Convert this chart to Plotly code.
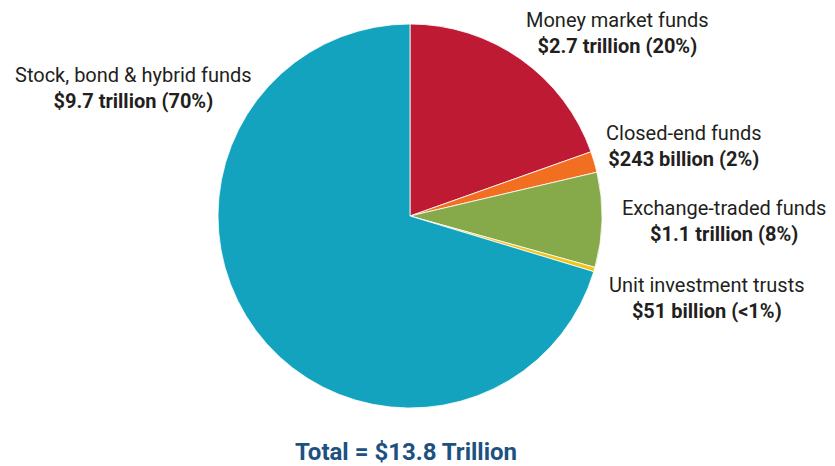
import plotly.graph_objects as go

categories = ["Money market funds", "Closed-end funds", "Exchange-traded funds",
              "Unit investment trusts", "Stock, bond & hybrid funds"]
values = [2.7, 0.243, 1.1, 0.051, 9.7]  # trillions
value_labels = ["$2.7 trillion (20%)", "$243 billion (2%)", "$1.1 trillion (8%)",
                "$51 billion (<1%)", "$9.7 trillion (70%)"]
colors = ["#BE1A34", "#F26F21", "#86A94A", "#F0C419", "#13A3BF"]
total_label = "Total = $13.8 Trillion"

W, H = 835, 466
cx, cy, r = 410, 216, 192

fig = go.Figure(go.Pie(
    labels=categories, values=values, sort=False, direction="clockwise",
    rotation=0, marker=dict(colors=colors, line=dict(color="white", width=0.8)),
    textinfo="none", hoverinfo="label+value", showlegend=False,
    domain=dict(x=[(cx - r) / W, (cx + r) / W], y=[(H - cy - r) / H, (H - cy + r) / H]),
))

label_pos = [(617, 33), (684, 146), (724, 221), (707, 298), (133, 88)]
for (x, y), cat, vl in zip(label_pos, categories, value_labels):
    fig.add_annotation(x=x / W, y=1 - y / H, xref="paper", yref="paper",
                       text=f"{cat}<br><b>{vl}</b>", showarrow=False, align="center",
                       xanchor="center", yanchor="middle",
                       font=dict(family="Roboto", size=20, color="#231F20"))

fig.add_annotation(x=406 / W, y=1 - 452 / H, xref="paper", yref="paper",
                   text=f"<b>{total_label}</b>", showarrow=False,
                   xanchor="center", yanchor="middle",
                   font=dict(family="Roboto", size=24, color="#1D5181"))

fig.update_layout(width=W, height=H, margin=dict(l=0, r=0, t=0, b=0),
                  paper_bgcolor="white", plot_bgcolor="white")
fig.write_html("out.html", config={"displayModeBar": False},
               post_script="document.body.style.margin='0';document.body.style.overflow='hidden';")
